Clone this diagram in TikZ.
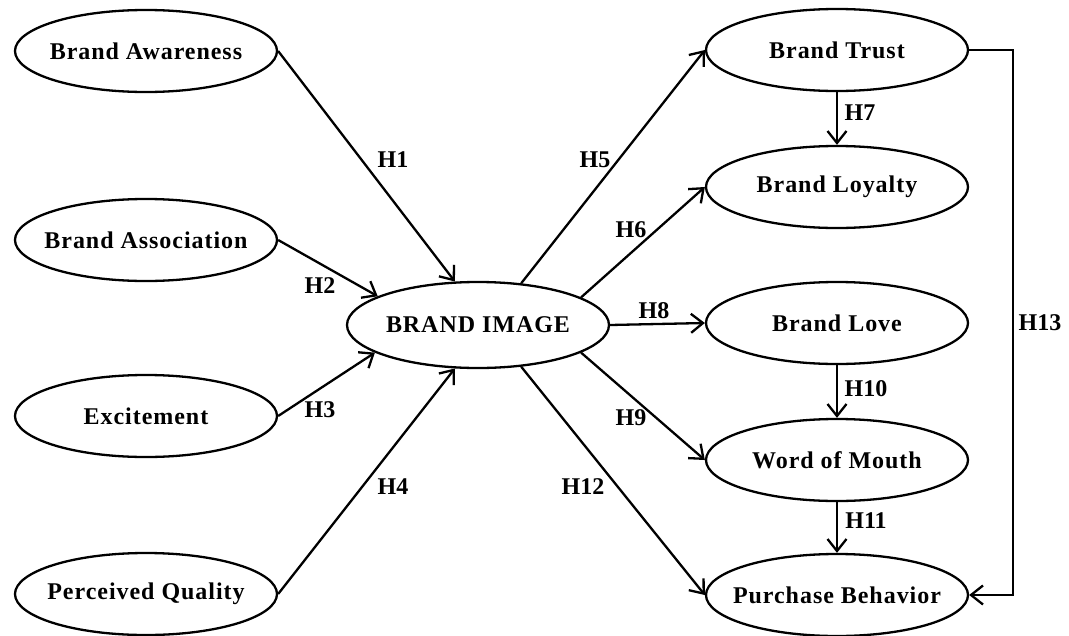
\documentclass[tikz,border=0pt]{standalone}
\usepackage{fontspec}
\setmainfont{Liberation Serif}
\usetikzlibrary{shapes.geometric,arrows.meta}
\begin{document}
\begin{tikzpicture}[x=1pt,y=-1pt,
  ell/.style={draw,line width=2.3pt,ellipse,minimum width=262pt,minimum height=82pt,inner xsep=-40pt,inner ysep=0pt,
    font=\fontsize{24}{28}\selectfont\bfseries\addfontfeature{LetterSpace=4}},
  arr/.style={line width=2.3pt,-{Straight Barb[length=12pt,width=19pt,line width=2.3pt]}},
  lab/.style={font=\fontsize{24}{28}\selectfont\bfseries,inner sep=0pt}]
\useasboundingbox (0,0) rectangle (1069,635);
% left column
\node[ell] (ba) at (146,51) {Brand Awareness};
\node[ell] (bas) at (146,240) {Brand Association};
\node[ell] (ex) at (146,416) {Excitement};
\node[ell] (pq) at (146,594) {Perceived Quality};
% centre
\node[ell,minimum height=86pt] (bi) at (478,325) {BRAND IMAGE};
% right column
\node[ell] (bt) at (837,50) {Brand Trust};
\node[ell] (bl) at (837,187) {Brand Loyalty};
\node[ell] (blv) at (837,323) {Brand Love};
\node[ell] (wom) at (837,460) {Word of Mouth};
\node[ell] (pb) at (837,595) {Purchase Behavior};
% incoming
\draw[arr] (ba.east) -- (bi.118);
\draw[arr] (bas.east) -- (bi.164);
\draw[arr] (ex.east) -- (bi.195);
\draw[arr] (pq.east) -- (bi.242);
% outgoing
\draw[arr] (bi.44) -- (bt.west);
\draw[arr] (bi.15) -- (bl.west);
\draw[arr] (bi.east) -- (blv.west);
\draw[arr] (bi.-15) -- (wom.west);
\draw[arr] (bi.-44) -- (pb.west);
% vertical
\draw[arr] (bt.south) -- (bl.north);
\draw[arr] (blv.south) -- (wom.north);
\draw[arr] (wom.south) -- (pb.north);
\draw[arr] (bt.east) -- ++(44,0) |- (pb.east);
% labels
\node[lab] (h1) at (393,160) {H1};
\node[lab] (h2) at (320,286) {H2};
\node[lab] (h3) at (320,410) {H3};
\node[lab] (h4) at (393,487) {H4};
\node[lab] (h5) at (595,160) {H5};
\node[lab] (h6) at (631,230) {H6};
\node[lab] (h8) at (654,311) {H8};
\node[lab] (h9) at (631,418) {H9};
\node[lab] (h12) at (583,487) {H12};
\node[lab] (h7) at (860,113) {H7};
\node[lab] (h10) at (866,389) {H10};
\node[lab] (h11) at (866,521) {H11};
\node[lab] (h13) at (1040,323) {H13};
\end{tikzpicture}
\end{document}
